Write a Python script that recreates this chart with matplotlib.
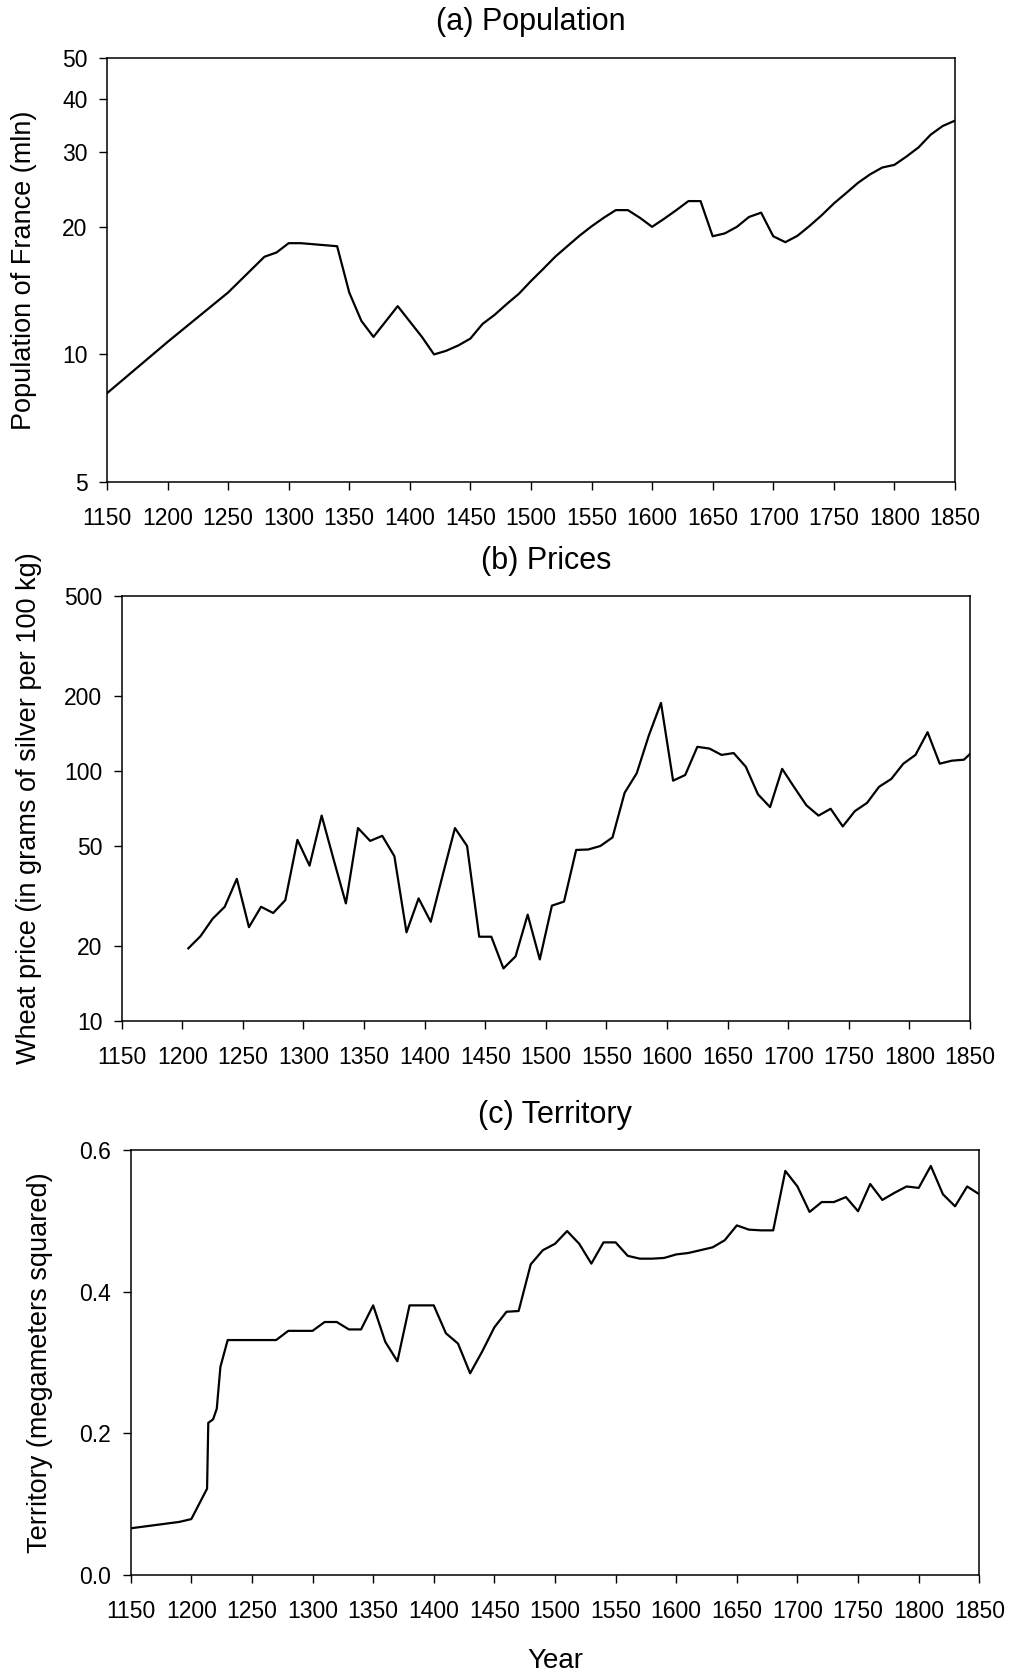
import matplotlib
matplotlib.use("Agg")
import matplotlib.pyplot as plt
from matplotlib.ticker import FixedLocator, FixedFormatter, NullLocator

plt.rcParams['font.family'] = ['Liberation Sans', 'DejaVu Sans']

# (a) population of France, millions
pop_years = [1150, 1200, 1250, 1280, 1290, 1300, 1310, 1340, 1350, 1360, 1370,
             1390, 1410, 1420, 1430, 1440, 1450, 1460, 1470, 1480, 1490, 1500,
             1510, 1520, 1530, 1540, 1550, 1560, 1570, 1580, 1590, 1600, 1610,
             1620, 1630, 1640, 1650, 1660, 1670, 1680, 1690, 1700, 1710, 1720,
             1730, 1740, 1750, 1760, 1770, 1780, 1790, 1800, 1810, 1820, 1830,
             1840, 1850]
pop_values = [8.1, 10.7, 14.0, 17.0, 17.4, 18.3, 18.3, 18.0, 14.0, 12.0, 11.0,
              13.0, 11.0, 10.0, 10.2, 10.5, 10.9, 11.8, 12.4, 13.15, 13.9, 14.9,
              15.9, 17.0, 18.0, 19.05, 20.05, 21.0, 21.9, 21.9, 21.0, 20.0, 20.9,
              21.9, 23.0, 23.0, 19.0, 19.3, 20.0, 21.1, 21.6, 19.0, 18.4, 19.05,
              20.1, 21.3, 22.7, 24.0, 25.4, 26.6, 27.6, 28.0, 29.3, 30.8, 33.0,
              34.6, 35.6]

# (b) wheat price, grams of silver per 100 kg
price_years = [1205, 1215, 1225, 1235, 1245, 1255, 1265, 1275, 1285, 1295, 1305,
               1315, 1325, 1335, 1345, 1355, 1365, 1375, 1385, 1395, 1405, 1415,
               1425, 1435, 1445, 1455, 1465, 1475, 1485, 1495, 1505, 1515, 1525,
               1535, 1545, 1555, 1565, 1575, 1585, 1595, 1605, 1615, 1625, 1635,
               1645, 1655, 1665, 1675, 1685, 1695, 1705, 1715, 1725, 1735, 1745,
               1755, 1765, 1775, 1785, 1795, 1805, 1815, 1825, 1835, 1845, 1850]
price_values = [19.5, 21.8, 25.6, 28.6, 37.0, 23.7, 28.6, 27.0, 30.4, 53.0, 41.8,
                66.3, 44.0, 29.5, 59.1, 52.5, 55.0, 45.6, 22.6, 30.9, 24.9, 38.5,
                59.1, 50.1, 21.7, 21.7, 16.2, 18.1, 26.6, 17.6, 28.9, 30.0, 48.3,
                48.5, 50.1, 54.2, 81.8, 98.0, 138.9, 187.4, 91.5, 96.4, 125.0, 123.0,
                116.0, 118.0, 104.0, 80.7, 71.7, 102.0, 86.0, 72.9, 66.3, 70.6, 60.0,
                69.1, 74.5, 86.5, 92.9, 107.0, 116.0, 143.0, 107.0, 110.0, 111.0, 117.0]

# (c) territory, megameters squared
terr_years = [1150, 1190, 1200, 1213, 1214, 1218, 1221, 1224, 1230, 1270, 1280,
              1300, 1310, 1320, 1330, 1340, 1350, 1360, 1370, 1380, 1400, 1410,
              1420, 1430, 1440, 1450, 1460, 1470, 1480, 1490, 1500, 1510, 1520,
              1530, 1540, 1550, 1560, 1570, 1580, 1590, 1600, 1610, 1620, 1630,
              1640, 1650, 1660, 1670, 1680, 1690, 1700, 1710, 1720, 1730, 1740,
              1750, 1760, 1770, 1780, 1790, 1800, 1810, 1820, 1830, 1840, 1850]
terr_values = [0.066, 0.075, 0.079, 0.122, 0.215, 0.220, 0.235, 0.294, 0.332, 0.332, 0.345,
               0.345, 0.3575, 0.3575, 0.347, 0.347, 0.381, 0.3295, 0.302, 0.381, 0.381, 0.3416,
               0.327, 0.285, 0.316, 0.350, 0.372, 0.373, 0.439, 0.459, 0.468, 0.486, 0.468,
               0.440, 0.470, 0.470, 0.451, 0.447, 0.447, 0.448, 0.453, 0.455, 0.459, 0.463,
               0.473, 0.494, 0.488, 0.487, 0.487, 0.571, 0.549, 0.513, 0.527, 0.527, 0.534,
               0.514, 0.5525, 0.530, 0.540, 0.549, 0.547, 0.578, 0.538, 0.521, 0.549, 0.538]

year_ticks = list(range(1150, 1851, 50))
pop_ticks = [5, 10, 20, 30, 40, 50]
price_ticks = [10, 20, 50, 100, 200, 500]
terr_ticks = [0.0, 0.2, 0.4, 0.6]

fig = plt.figure(figsize=(10.1, 16.75), dpi=100)
ax1 = fig.add_axes([0.1059, 0.7122, 0.8396, 0.2531])
ax2 = fig.add_axes([0.1205, 0.3906, 0.8399, 0.2533])
ax3 = fig.add_axes([0.1294, 0.0597, 0.8402, 0.2535])

def style(ax, title):
    ax.set_xlim(1150, 1850)
    ax.xaxis.set_major_locator(FixedLocator(year_ticks))
    ax.xaxis.set_minor_locator(NullLocator())
    ax.tick_params(axis='x', direction='out', length=6, width=1, pad=12, labelsize=16.5)
    ax.tick_params(axis='y', direction='out', length=6, width=1, pad=8, labelsize=16.5)
    for s in ax.spines.values():
        s.set_linewidth(1.1)
    ax.set_title(title, fontsize=22, pad=20)

# population
ax1.plot(pop_years, pop_values, color='black', lw=1.6)
ax1.set_yscale('log')
ax1.set_ylim(5, 50)
ax1.yaxis.set_major_locator(FixedLocator(pop_ticks))
ax1.yaxis.set_major_formatter(FixedFormatter([str(t) for t in pop_ticks]))
ax1.yaxis.set_minor_locator(NullLocator())
style(ax1, "(a) Population")
ax1.set_ylabel("Population of France (mln)", fontsize=19.5)
ax1.yaxis.set_label_coords(-0.0825, 0.5)

# prices
ax2.plot(price_years, price_values, color='black', lw=1.6)
ax2.set_yscale('log')
ax2.set_ylim(10, 500)
ax2.yaxis.set_major_locator(FixedLocator(price_ticks))
ax2.yaxis.set_major_formatter(FixedFormatter([str(t) for t in price_ticks]))
ax2.yaxis.set_minor_locator(NullLocator())
style(ax2, "(b) Prices")
ax2.set_ylabel("Wheat price (in grams of silver per 100 kg)", fontsize=19.5)
ax2.yaxis.set_label_coords(-0.0943, 0.5)

# territory
ax3.plot(terr_years, terr_values, color='black', lw=1.6)
ax3.set_ylim(0, 0.6)
ax3.yaxis.set_major_locator(FixedLocator(terr_ticks))
ax3.yaxis.set_major_formatter(FixedFormatter(["%.1f" % t for t in terr_ticks]))
style(ax3, "(c) Territory")
ax3.set_ylabel("Territory (megameters squared)", fontsize=19.5)
ax3.yaxis.set_label_coords(-0.0912, 0.5)
ax3.set_xlabel("Year", fontsize=20)
ax3.xaxis.set_label_coords(0.5, -0.172)

fig.savefig("out.png", dpi=100)
